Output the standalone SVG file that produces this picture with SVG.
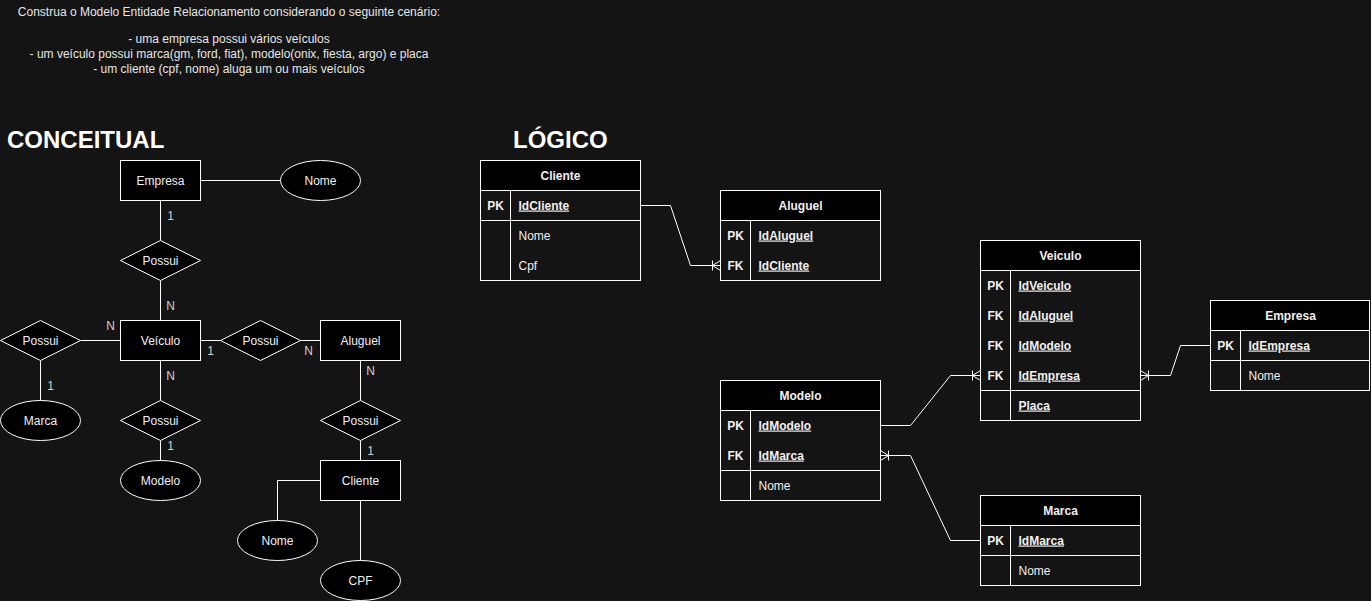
<svg xmlns="http://www.w3.org/2000/svg" width="1371" height="601" viewBox="0 0 1371 601">
<defs>
<style>
text{font-family:"Liberation Sans",Arial,Helvetica,sans-serif;font-size:12px;fill:#f0f0f0}
.c{text-anchor:middle}
.b{font-weight:bold}
.u{text-decoration:underline}
.lbl{fill:#d0d0d0;text-anchor:middle}
.desc{fill:#e6e6e6;text-anchor:middle}
.h{font-size:24px;font-weight:bold;fill:#ffffff}
.shape{fill:#000;stroke:#fff;stroke-width:1}
.ln{fill:none;stroke:#fff;stroke-width:1}
.hdr{fill:#000;stroke:#fff;stroke-width:1}
.body{fill:none;stroke:#fff;stroke-width:1}
</style>
<marker id="erMany" viewBox="-10 -7 12 14" refX="0" refY="0" markerWidth="12" markerHeight="14" markerUnits="userSpaceOnUse" orient="auto" overflow="visible">
<path d="M-8,-5 L-8,5 M-8,0 L0,-5 M-8,0 L0,5" fill="none" stroke="#fff" stroke-width="1"/>
</marker>
</defs>
<rect x="0" y="0" width="1371" height="601" fill="#141414"/>

<g id="description">
<text class="desc" x="229" y="16">Construa o Modelo Entidade Relacionamento considerando o seguinte cenário:</text>
<text class="desc" x="229" y="43">- uma empresa possui vários veículos</text>
<text class="desc" x="229" y="58">- um veículo possui marca(gm, ford, fiat), modelo(onix, fiesta, argo) e placa</text>
<text class="desc" x="229" y="73">- um cliente (cpf, nome) aluga um ou mais veículos</text>
</g>
<g id="title-conceitual"><text class="h" x="7" y="148">CONCEITUAL</text></g>
<g id="title-logico"><text class="h" x="513" y="148">LÓGICO</text></g>

<g transform="translate(0.5,0.5)">
<g id="connectors">
<line class="ln" x1="200" y1="180" x2="280" y2="180"/>
<line class="ln" x1="160" y1="200" x2="160" y2="240"/>
<line class="ln" x1="160" y1="280" x2="160" y2="320"/>
<line class="ln" x1="80" y1="340" x2="120" y2="340"/>
<line class="ln" x1="40" y1="360" x2="40" y2="400"/>
<line class="ln" x1="200" y1="340" x2="220" y2="340"/>
<line class="ln" x1="300" y1="340" x2="320" y2="340"/>
<line class="ln" x1="160" y1="360" x2="160" y2="400"/>
<line class="ln" x1="160" y1="440" x2="160" y2="460"/>
<line class="ln" x1="360" y1="360" x2="360" y2="400"/>
<line class="ln" x1="360" y1="440" x2="360" y2="460"/>
<path class="ln" d="M320,480 L277,480 L277,520"/>
<line class="ln" x1="360" y1="500" x2="360" y2="560"/>
<text class="lbl" x="170" y="219">1</text>
<text class="lbl" x="170" y="309">N</text>
<text class="lbl" x="110" y="329">N</text>
<text class="lbl" x="50" y="389">1</text>
<text class="lbl" x="210" y="354">1</text>
<text class="lbl" x="308" y="354">N</text>
<text class="lbl" x="170" y="379">N</text>
<text class="lbl" x="170" y="449">1</text>
<text class="lbl" x="370" y="374">N</text>
<text class="lbl" x="370" y="454">1</text>
<path class="ln" d="M640,205 L670,205 L690,265 L720,265" marker-end="url(#erMany)"/>
<path class="ln" d="M880,425 L910,425 L950,375 L980,375" marker-end="url(#erMany)"/>
<path class="ln" d="M1210,345 L1180,345 L1170,375 L1140,375" marker-end="url(#erMany)"/>
<path class="ln" d="M980,540 L950,540 L910,455 L880,455" marker-end="url(#erMany)"/>
</g>

<g id="c-empresa"><rect class="shape" x="120" y="160" width="80" height="40"/><text class="c" x="160" y="184">Empresa</text></g>
<g id="c-empresa-nome"><ellipse class="shape" cx="320" cy="180" rx="40" ry="20"/><text class="c" x="320" y="184">Nome</text></g>
<g id="c-possui-1"><polygon class="shape" points="160,240 200,260 160,280 120,260"/><text class="c" x="160" y="264">Possui</text></g>
<g id="c-veiculo"><rect class="shape" x="120" y="320" width="80" height="40"/><text class="c" x="160" y="344">Veículo</text></g>
<g id="c-possui-2"><polygon class="shape" points="40,320 80,340 40,360 0,340"/><text class="c" x="40" y="344">Possui</text></g>
<g id="c-marca"><ellipse class="shape" cx="40" cy="420" rx="40" ry="20"/><text class="c" x="40" y="424">Marca</text></g>
<g id="c-possui-3"><polygon class="shape" points="260,320 300,340 260,360 220,340"/><text class="c" x="260" y="344">Possui</text></g>
<g id="c-aluguel"><rect class="shape" x="320" y="320" width="80" height="40"/><text class="c" x="360" y="344">Aluguel</text></g>
<g id="c-possui-4"><polygon class="shape" points="160,400 200,420 160,440 120,420"/><text class="c" x="160" y="424">Possui</text></g>
<g id="c-modelo"><ellipse class="shape" cx="160" cy="480" rx="40" ry="20"/><text class="c" x="160" y="484">Modelo</text></g>
<g id="c-possui-5"><polygon class="shape" points="360,400 400,420 360,440 320,420"/><text class="c" x="360" y="424">Possui</text></g>
<g id="c-cliente"><rect class="shape" x="320" y="460" width="80" height="40"/><text class="c" x="360" y="484">Cliente</text></g>
<g id="c-cliente-nome"><ellipse class="shape" cx="277" cy="540" rx="40" ry="20"/><text class="c" x="277" y="544">Nome</text></g>
<g id="c-cpf"><ellipse class="shape" cx="360" cy="580" rx="40" ry="20"/><text class="c" x="360" y="584">CPF</text></g>

<g id="t-cliente">
<rect class="body" x="480" y="160" width="160" height="120"/>
<rect class="hdr" x="480" y="160" width="160" height="30"/>
<text class="c b" x="560" y="179">Cliente</text>
<line class="ln" x1="510" y1="190" x2="510" y2="280"/>
<line class="ln" x1="480" y1="220" x2="640" y2="220"/>
<text class="c b" x="495" y="209">PK</text><text class="b u" x="518" y="209">IdCliente</text>
<text x="518" y="239">Nome</text>
<text x="518" y="269">Cpf</text>
</g>

<g id="t-aluguel">
<rect class="body" x="720" y="190" width="160" height="90"/>
<rect class="hdr" x="720" y="190" width="160" height="30"/>
<text class="c b" x="800" y="209">Aluguel</text>
<line class="ln" x1="750" y1="220" x2="750" y2="280"/>
<text class="c b" x="735" y="239">PK</text><text class="b u" x="758" y="239">IdAluguel</text>
<text class="c b" x="735" y="269">FK</text><text class="b u" x="758" y="269">IdCliente</text>
</g>

<g id="t-veiculo">
<rect class="body" x="980" y="240" width="160" height="180"/>
<rect class="hdr" x="980" y="240" width="160" height="30"/>
<text class="c b" x="1060" y="259">Veiculo</text>
<line class="ln" x1="1010" y1="270" x2="1010" y2="420"/>
<line class="ln" x1="980" y1="390" x2="1140" y2="390"/>
<text class="c b" x="995" y="289">PK</text><text class="b u" x="1018" y="289">IdVeiculo</text>
<text class="c b" x="995" y="319">FK</text><text class="b u" x="1018" y="319">IdAluguel</text>
<text class="c b" x="995" y="349">FK</text><text class="b u" x="1018" y="349">IdModelo</text>
<text class="c b" x="995" y="379">FK</text><text class="b u" x="1018" y="379">IdEmpresa</text>
<text class="b u" x="1018" y="409">Placa</text>
</g>

<g id="t-empresa">
<rect class="body" x="1210" y="300" width="159" height="90"/>
<rect class="hdr" x="1210" y="300" width="159" height="30"/>
<text class="c b" x="1290" y="319">Empresa</text>
<line class="ln" x1="1240" y1="330" x2="1240" y2="390"/>
<line class="ln" x1="1210" y1="360" x2="1369" y2="360"/>
<text class="c b" x="1225" y="349">PK</text><text class="b u" x="1248" y="349">IdEmpresa</text>
<text x="1248" y="379">Nome</text>
</g>

<g id="t-modelo">
<rect class="body" x="720" y="380" width="160" height="120"/>
<rect class="hdr" x="720" y="380" width="160" height="30"/>
<text class="c b" x="800" y="399">Modelo</text>
<line class="ln" x1="750" y1="410" x2="750" y2="500"/>
<line class="ln" x1="720" y1="470" x2="880" y2="470"/>
<text class="c b" x="735" y="429">PK</text><text class="b u" x="758" y="429">IdModelo</text>
<text class="c b" x="735" y="459">FK</text><text class="b u" x="758" y="459">IdMarca</text>
<text x="758" y="489">Nome</text>
</g>

<g id="t-marca">
<rect class="body" x="980" y="495" width="160" height="90"/>
<rect class="hdr" x="980" y="495" width="160" height="30"/>
<text class="c b" x="1060" y="514">Marca</text>
<line class="ln" x1="1010" y1="525" x2="1010" y2="585"/>
<line class="ln" x1="980" y1="555" x2="1140" y2="555"/>
<text class="c b" x="995" y="544">PK</text><text class="b u" x="1018" y="544">IdMarca</text>
<text x="1018" y="574">Nome</text>
</g>
</g>
</svg>
